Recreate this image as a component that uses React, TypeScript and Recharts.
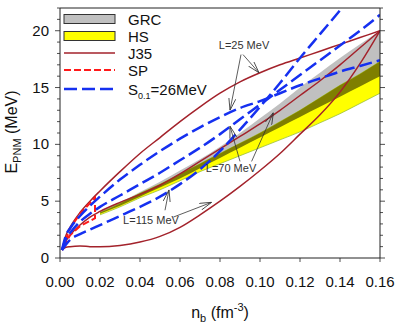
import React from 'react';
import {
	Area,
	ComposedChart,
	Line,
	ReferenceDot,
	ReferenceLine,
	XAxis,
	YAxis,
} from 'recharts';

// baryon density grid (fm^-3) shared by the J35 and S0.1 curves
const densities = [0.001, 0.003, 0.005, 0.01, 0.015, 0.02, 0.03, 0.04, 0.05, 0.06, 0.07, 0.08, 0.09, 0.1, 0.11, 0.12, 0.13, 0.14, 0.15, 0.16];

// J35 family (MeV)
const j35L25 = [0.7, 2.0, 2.7, 4.0, 5.0, 5.9, 7.6, 9.2, 10.6, 12.0, 13.3, 14.5, 15.5, 16.3, 17.0, 17.6, 18.2, 18.8, 19.4, 20.0];
const j35L70 = [0.7, 1.5, 2.0, 2.9, 3.6, 4.1, 4.9, 5.6, 6.4, 7.4, 8.5, 9.6, 10.7, 11.8, 13.0, 14.3, 15.6, 17.0, 18.5, 20.0];
const j35L115 = [0.7, 0.95, 1.0, 1.05, 1.0, 0.98, 1.1, 1.4, 1.9, 2.7, 3.8, 5.0, 6.3, 7.7, 9.2, 10.9, 12.6, 14.6, 17.1, 20.0];

// S0.1 = 26 MeV family (MeV)
const s01L25 = [0.7, 2.0, 2.6, 3.7, 4.6, 5.4, 6.9, 8.2, 9.4, 10.5, 11.5, 12.4, 13.2, 13.8, 14.5, 15.2, 15.8, 16.4, 16.9, 17.4];
const s01L70 = [0.7, 1.7, 2.2, 3.2, 3.9, 4.5, 5.5, 6.5, 7.5, 8.6, 9.7, 10.9, 12.2, 13.5, 14.8, 16.1, 17.4, 18.7, 20.0, 21.4];
const s01L115 = [0.7, 1.2, 1.6, 2.1, 2.5, 2.9, 3.7, 4.5, 5.4, 6.5, 7.8, 9.4, 11.3, 13.3, 15.4, 17.6, 19.7, 21.8, 24.0, 26.2];

// SP band, drawn as a closed outline
const spDensities = [0.001, 0.005, 0.01, 0.0175, 0.0175, 0.01, 0.005, 0.001];
const spEnergies = [0.7, 2.6, 3.9, 5.3, 3.5, 2.8, 2.0, 0.7];

// GRC and HS bands
const bandDensities = [0.02, 0.03, 0.04, 0.05, 0.06, 0.07, 0.08, 0.09, 0.1, 0.11, 0.12, 0.13, 0.14, 0.15, 0.16];
const grcLow = [3.9, 4.6, 5.4, 6.2, 7.0, 7.9, 8.8, 9.7, 10.6, 11.5, 12.4, 13.3, 14.2, 15.1, 16.0];
const grcHigh = [4.1, 4.9, 5.8, 6.7, 7.7, 8.7, 9.8, 11.0, 12.3, 13.6, 15.0, 16.3, 17.6, 18.8, 20.0];
const hsLow = [3.8, 4.5, 5.3, 6.0, 6.8, 7.6, 8.3, 9.0, 9.7, 10.4, 11.1, 11.9, 12.7, 13.6, 14.5];
const hsHigh = [4.0, 4.8, 5.7, 6.5, 7.4, 8.3, 9.2, 10.1, 11.0, 12.0, 13.0, 14.1, 15.2, 16.2, 17.3];

const xTicks = [0, 0.02, 0.04, 0.06, 0.08, 0.1, 0.12, 0.14, 0.16];
const yTicks = [0, 1, 2, 3, 4, 5, 6, 7, 8, 9, 10, 11, 12, 13, 14, 15, 16, 17, 18, 19, 20, 21, 22];

// annotation labels and arrows (data coordinates)
const annotations = [
	{ text: 'L=25 MeV', n: 0.092, e: 18.7 },
	{ text: 'L=70 MeV', n: 0.0855, e: 7.9 },
	{ text: 'L=115 MeV', n: 0.0455, e: 3.3 },
];
const arrows = [
	[0.0905, 17.9, 0.085, 13.0],
	[0.0915, 17.9, 0.0995, 16.3],
	[0.09, 8.5, 0.085, 11.6],
	[0.0958, 8.5, 0.1067, 12.8],
	[0.0525, 4.2, 0.0545, 6.0],
	[0.0567, 3.6, 0.0758, 4.9],
];

const BROWN = '#A3222B';
const BLUE = '#1530F0';
const RED = '#FF1A1A';

const toPoints = (ns: number[], es: number[]) => ns.map((n, i) => ({ n, e: es[i] }));

const bandRows = bandDensities.map((n, i) => ({
	n,
	grc: [grcLow[i], grcHigh[i]],
	hs: [hsLow[i], hsHigh[i]],
	both: [Math.max(grcLow[i], hsLow[i]), Math.min(grcHigh[i], hsHigh[i])],
}));

const LeftTick = (props: any) => {
	const { x, y, payload } = props;
	const major = payload.value % 5 === 0;
	return (
		<g>
			<line x1={x} x2={x - (major ? 5 : 3)} y1={y} y2={y} stroke="#222" strokeWidth={0.8} />
			{major && (
				<text x={x - 11} y={y + 5} textAnchor="end" fontSize={15} fill="#111">
					{payload.value}
				</text>
			)}
		</g>
	);
};

const RightTick = (props: any) => {
	const { x, y, payload } = props;
	const major = payload.value % 5 === 0;
	return <line x1={x} x2={x + (major ? 5 : 3)} y1={y} y2={y} stroke="#222" strokeWidth={0.8} />;
};

const BottomTick = (props: any) => {
	const { x, y, payload } = props;
	return (
		<g>
			<line x1={x} x2={x} y1={y} y2={y + 4} stroke="#222" strokeWidth={0.8} />
			<text x={x} y={y + 29} textAnchor="middle" fontSize={15} fill="#111">
				{payload.value.toFixed(2)}
			</text>
		</g>
	);
};

const legendItems = [
	{ name: 'GRC', kind: 'box', color: '#C0C0C0' },
	{ name: 'HS', kind: 'box', color: '#FFFF00' },
	{ name: 'J35', kind: 'line', color: BROWN, dash: undefined, width: 1.5 },
	{ name: 'SP', kind: 'line', color: RED, dash: '7 3', width: 2 },
	{ name: 'S', kind: 'line', color: BLUE, dash: '13 5', width: 2.5 },
];
const legendRows = [19, 36, 53, 70, 89];

const Overlay = () => (
	<svg width={398} height={327} style={{ position: 'absolute', left: 0, top: 0, pointerEvents: 'none' }}>
		<defs>
			<marker id="annArrow" viewBox="0 0 12 8" refX="12" refY="4" markerWidth="12" markerHeight="8" orient="auto" markerUnits="userSpaceOnUse">
				<path d="M0,0.5 L12,4 L0,7.5" fill="none" stroke="#333" strokeWidth={0.8} />
			</marker>
		</defs>
		{legendItems.map((item, i) => {
			const cy = legendRows[i];
			return (
				<g key={item.name}>
					{item.kind === 'box' ? (
						<rect x={64} y={cy - 4.5} width={51} height={9} fill={item.color} stroke="#333" strokeWidth={1} />
					) : (
						<line x1={64} x2={115} y1={cy} y2={cy} stroke={item.color} strokeWidth={item.width} strokeDasharray={item.dash} />
					)}
					<text x={128} y={cy + 5.5} fontSize={15} fill="#111">
						{item.name === 'S' ? (
							<>
								S<tspan fontSize={9} dy={4}>0.1</tspan>
								<tspan dy={-4}>=26MeV</tspan>
							</>
						) : (
							item.name
						)}
					</text>
				</g>
			);
		})}
		<text transform="translate(17,132) rotate(-90)" textAnchor="middle" fontSize={16} fill="#111">
			E<tspan fontSize={11} dy={4}>PNM</tspan>
			<tspan dy={-4}> (MeV)</tspan>
		</text>
		<text x={220} y={318} textAnchor="middle" fontSize={16} fill="#111">
			n<tspan fontSize={11} dy={4}>b</tspan>
			<tspan dy={-4}> (fm</tspan>
			<tspan fontSize={11} dy={-7}>-3</tspan>
			<tspan dy={7}>)</tspan>
		</text>
	</svg>
);

export default function App() {
	return (
		<div style={{ position: 'absolute', left: 0, top: 0, width: 398, height: 327, background: '#fff', fontFamily: '"Liberation Sans", Arial, sans-serif' }}>
			<ComposedChart width={398} height={327} data={bandRows} margin={{ top: 8, right: 17, left: 0, bottom: 0 }}>
				<XAxis
					dataKey="n"
					type="number"
					domain={[0, 0.16]}
					ticks={xTicks}
					interval={0}
					allowDataOverflow
					height={69}
					tickSize={0}
					tickMargin={0}
					tickLine={false}
					tick={BottomTick}
					axisLine={{ stroke: '#222' }}
				/>
				<YAxis
					type="number"
					domain={[0, 22]}
					ticks={yTicks}
					interval={0}
					allowDataOverflow
					width={60}
					tickSize={0}
					tickMargin={0}
					tickLine={false}
					tick={LeftTick}
					axisLine={{ stroke: '#222' }}
				/>
				<YAxis
					yAxisId="right"
					orientation="right"
					type="number"
					domain={[0, 22]}
					ticks={yTicks}
					interval={0}
					allowDataOverflow
					width={1}
					tickSize={0}
					tickMargin={0}
					tickLine={false}
					tick={RightTick}
					axisLine={{ stroke: '#222' }}
				/>
				<ReferenceLine y={22} stroke="#222" strokeWidth={1} />
				<Area dataKey="grc" type="monotone" fill="#C0C0C0" fillOpacity={1} stroke="none" isAnimationActive={false} />
				<Area dataKey="hs" type="monotone" fill="#FFFF00" fillOpacity={1} stroke="#9BBF3A" strokeWidth={0.8} isAnimationActive={false} />
				<Area dataKey="both" type="monotone" fill="#7F7F00" fillOpacity={1} stroke="none" isAnimationActive={false} />

				<Line data={toPoints(densities, j35L25)} dataKey="e" type="monotone" stroke={BROWN} strokeWidth={1.5} dot={false} isAnimationActive={false} />
				<Line data={toPoints(densities, j35L70)} dataKey="e" type="monotone" stroke={BROWN} strokeWidth={1.5} dot={false} isAnimationActive={false} />
				<Line data={toPoints(densities, j35L115)} dataKey="e" type="monotone" stroke={BROWN} strokeWidth={1.5} dot={false} isAnimationActive={false} />

				<Line data={toPoints(spDensities, spEnergies)} dataKey="e" type="linear" stroke={RED} strokeWidth={2} strokeDasharray="7 3" dot={false} isAnimationActive={false} />

				<Line data={toPoints(densities, s01L25)} dataKey="e" type="monotone" stroke={BLUE} strokeWidth={2.5} strokeDasharray="13 5" dot={false} isAnimationActive={false} />
				<Line data={toPoints(densities, s01L70)} dataKey="e" type="monotone" stroke={BLUE} strokeWidth={2.5} strokeDasharray="13 5" dot={false} isAnimationActive={false} />
				<Line data={toPoints(densities, s01L115)} dataKey="e" type="monotone" stroke={BLUE} strokeWidth={2.5} strokeDasharray="13 5" dot={false} isAnimationActive={false} />

				{arrows.map(([n1, e1, n2, e2], i) => (
					<ReferenceLine
						key={`arrow-${i}`}
						segment={[{ x: n1, y: e1 }, { x: n2, y: e2 }]}
						stroke="#333"
						strokeWidth={0.8}
						markerEnd="url(#annArrow)"
					/>
				))}
				{annotations.map((a) => (
					<ReferenceDot
						key={a.text}
						x={a.n}
						y={a.e}
						r={0}
						fill="none"
						stroke="none"
						label={{ value: a.text, position: 'center', fontSize: 11, fill: '#333' }}
					/>
				))}
			</ComposedChart>
			<Overlay />
		</div>
	);
}
